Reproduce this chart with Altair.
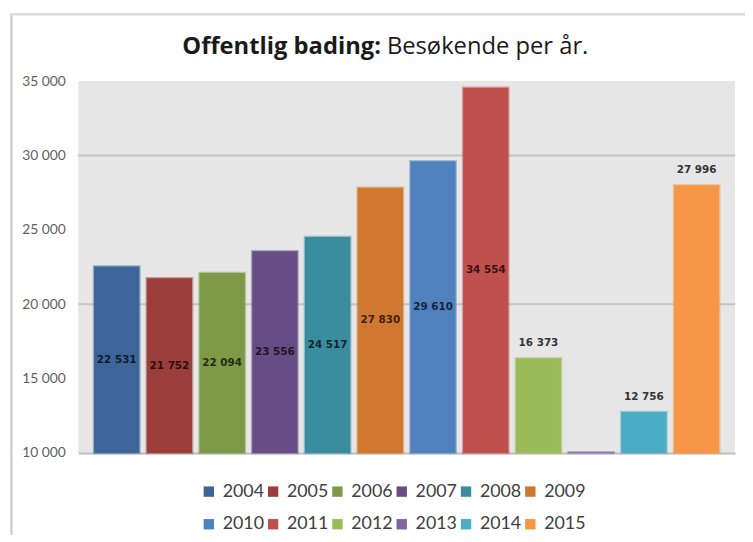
import altair as alt
import pandas as pd

years = ["2004", "2005", "2006", "2007", "2008", "2009",
         "2010", "2011", "2012", "2013", "2014", "2015"]
visitors = [22531, 21752, 22094, 23556, 24517, 27830,
            29610, 34554, 16373, 10050, 12756, 27996]
label_pos = ["inside", "inside", "inside", "inside", "inside", "inside",
             "inside", "inside", "above", "none", "above", "above"]
colors = ["#3E6599", "#9B3D3A", "#7E9A47", "#664D85", "#3A8C9F", "#D0782F",
          "#4F81BD", "#C0504D", "#9BBB59", "#8064A2", "#4BACC6", "#F79646"]
y_ticks = [10000, 15000, 20000, 25000, 30000, 35000]
grid_values = [20000, 30000]
title_bold = "Offentlig bading:"
title_rest = "Besøkende per år."

df = pd.DataFrame({"year": years, "value": visitors, "pos": label_pos})
grid_df = pd.DataFrame({"g": grid_values})
one = pd.DataFrame({"a": [0]})

W, H = 664, 376
ymin, ymax = 10000, 35000

yscale = alt.Scale(domain=[ymin, ymax], nice=False, zero=False)
xscale = alt.Scale(paddingInner=0.14, paddingOuter=0.3)
cscale = alt.Scale(domain=years, range=colors)

y_axis = alt.Axis(values=y_ticks, title=None, ticks=False, domain=False,
                  grid=False, labelFont="Lato", labelFontSize=14,
                  labelColor="#5f5f5f", labelPadding=13,
                  labelExpr="replace(format(datum.value, ','), ',', ' ')")
x_axis = alt.Axis(labels=False, ticks=False, title=None, domain=True,
                  domainColor="#bdbdbd", domainWidth=2)

x_enc = alt.X("year:N", scale=xscale, sort=years, axis=x_axis)

grid = alt.Chart(grid_df).mark_rule(color="#c4c4c4", strokeWidth=2).encode(
    y=alt.Y("g:Q", scale=yscale, axis=y_axis),
    x=alt.value(0), x2=alt.value(W)
)

bars = alt.Chart(df).mark_bar(strokeWidth=2.5, strokeOpacity=0.45).encode(
    x=x_enc,
    y=alt.Y("value:Q", scale=yscale, axis=y_axis),
    y2=alt.datum(ymin),
    color=alt.Color("year:N", scale=cscale, sort=years,
                    legend=alt.Legend(title=None, orient="none", legendX=123,
                                      legendY=406, columns=6, direction="horizontal",
                                      symbolType="square",
                                      symbolSize=110, symbolStrokeWidth=0,
                                      labelFont="Lato", labelFontSize=18,
                                      labelColor="#404040", labelOffset=5,
                                      columnPadding=-3, rowPadding=15)),
    stroke=alt.Stroke("year:N", scale=cscale, sort=years, legend=None),
)

inside = alt.Chart(df).transform_filter("datum.pos == 'inside'").transform_calculate(
    mid="(datum.value + %d) / 2" % ymin,
    txt="replace(format(datum.value, ','), ',', ' ')"
).mark_text(font="DejaVu Sans", fontSize=10.5, fontWeight="bold",
            color="#000000", opacity=0.72).encode(
    x=x_enc,
    y=alt.Y("mid:Q", scale=yscale, axis=y_axis),
    text="txt:N",
)

above = alt.Chart(df).transform_filter("datum.pos == 'above'").transform_calculate(
    txt="replace(format(datum.value, ','), ',', ' ')"
).mark_text(font="DejaVu Sans", fontSize=10.5, fontWeight="bold",
            color="#333333", dy=-15).encode(
    x=x_enc,
    y=alt.Y("value:Q", scale=yscale, axis=y_axis),
    text="txt:N",
)

t1 = alt.Chart(pd.DataFrame({"t": [title_bold]})).mark_text(
    font="Open Sans", fontSize=24, fontWeight="bold", align="right",
    baseline="middle", color="#1a1a1a").encode(
    x=alt.value(306), y=alt.value(-34), text="t:N")
t2 = alt.Chart(pd.DataFrame({"t": [title_rest]})).mark_text(
    font="Open Sans", fontSize=24, align="left",
    baseline="middle", color="#1a1a1a").encode(
    x=alt.value(312), y=alt.value(-34), text="t:N")

border_left = alt.Chart(one).mark_rule(color="#d0d0d0", strokeWidth=2.5).encode(
    x=alt.value(-67.5), y=alt.value(-68), y2=alt.value(470))
border_top = alt.Chart(one).mark_rule(color="#d9d9d9", strokeWidth=2.5).encode(
    y=alt.value(-67.5), x=alt.value(-68), x2=alt.value(680))

chart = alt.layer(grid, bars, inside, above, t1, t2, border_left, border_top).properties(
    width=W, height=H,
    autosize=alt.AutoSizeParams(type="none"),
    padding={"left": 71, "top": 71, "right": 10, "bottom": 80},
).configure(
    background="white",
    view=alt.ViewConfig(fill="#e6e6e6", stroke=None),
)

chart.save("out.html", embed_options={"renderer": "svg", "actions": False})
